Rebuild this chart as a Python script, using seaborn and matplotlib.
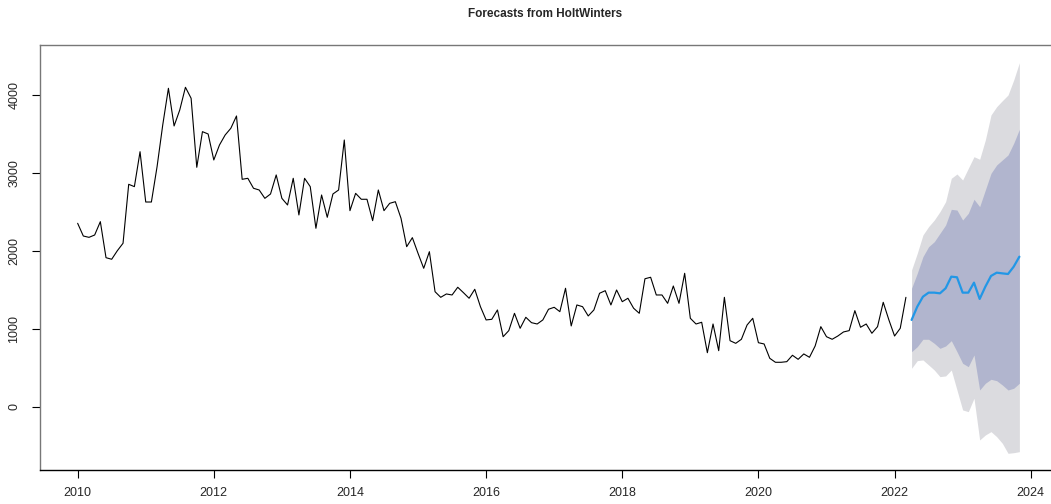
import numpy as np
import pandas as pd
import seaborn as sns
import matplotlib.pyplot as plt

sns.set_style("white")
plt.rcParams['font.family'] = ['Liberation Sans', 'DejaVu Sans']

# monthly series, Jan 2010 .. Mar 2022
observed = [2351, 2188, 2171, 2201, 2372, 1910, 1890, 2000, 2095, 2851, 2821, 3269,
            2624, 2624, 3077, 3612, 4082, 3599, 3804, 4095, 3954, 3069, 3526, 3496,
            3163, 3355, 3483, 3569, 3727, 2915, 2928, 2800, 2778, 2671, 2727, 2971,
            2671, 2586, 2928, 2458, 2928, 2821, 2287, 2714, 2428, 2727, 2778, 3419,
            2513, 2735, 2659, 2659, 2385, 2778, 2513, 2607, 2628, 2415, 2051, 2167,
            1966, 1774, 1987, 1474, 1402, 1445, 1432, 1531, 1462, 1390, 1505, 1282,
            1112, 1120, 1240, 897, 975, 1197, 1005, 1146, 1077, 1060, 1112, 1249,
            1274, 1218, 1518, 1035, 1304, 1282, 1163, 1240, 1454, 1487, 1304, 1496,
            1346, 1390, 1262, 1197, 1640, 1659, 1432, 1432, 1325, 1547, 1325, 1710,
            1133, 1060, 1082, 692, 1060, 718, 1402, 846, 812, 864, 1047, 1133,
            820, 804, 620, 569, 569, 577, 659, 607, 676, 633, 778, 1026,
            897, 864, 906, 958, 975, 1231, 1018, 1060, 941, 1026, 1338, 1112,
            906, 1005, 1402]

# forecast Apr 2022 .. Nov 2023
fc_mean = [1112, 1282, 1410, 1462, 1462, 1453, 1518, 1667, 1659, 1462,
           1462, 1590, 1381, 1538, 1676, 1718, 1709, 1701, 1795, 1923]
lo80 = [705, 769, 864, 864, 812, 748, 778, 846, 705, 556,
        513, 663, 214, 300, 351, 333, 278, 214, 236, 300]
hi80 = [1518, 1710, 1923, 2051, 2115, 2222, 2329, 2530, 2521, 2393,
        2479, 2659, 2564, 2778, 2992, 3099, 3163, 3227, 3377, 3556]
lo95 = [492, 590, 599, 535, 470, 385, 394, 470, 214, -42,
        -64, 108, -427, -363, -320, -385, -470, -598, -590, -577]
hi95 = [1753, 1966, 2201, 2308, 2393, 2500, 2628, 2928, 2983, 2906,
        3056, 3205, 3172, 3419, 3740, 3846, 3923, 3996, 4188, 4410]

hist = pd.DataFrame({'time': 2010 + np.arange(len(observed)) / 12, 'value': observed})
fc = pd.DataFrame({'time': 2010 + (len(observed) + np.arange(len(fc_mean))) / 12,
                   'mean': fc_mean, 'lo80': lo80, 'hi80': hi80, 'lo95': lo95, 'hi95': hi95})

fig = plt.figure(figsize=(10.51, 5.04), dpi=100)
ax = fig.add_axes([40 / 1051, 34 / 504, 1017 / 1051, 425 / 504])

ax.fill_between(fc['time'], fc['lo95'], fc['hi95'], color='#dbdbdf', lw=0)
ax.fill_between(fc['time'], fc['lo80'], fc['hi80'], color='#b1b5ce', lw=0)
sns.lineplot(data=hist, x='time', y='value', color='black', lw=0.8, ax=ax)
sns.lineplot(data=fc, x='time', y='mean', color='#2297e6', lw=1.6, ax=ax)

ax.set_xlim(2009.447, 2024.386)
ax.set_ylim(-812, 4637)
ax.set_xticks(range(2010, 2025, 2))
ax.set_yticks(range(0, 4001, 1000))
ax.set_xlabel('')
ax.set_ylabel('')
ax.tick_params(axis='both', direction='out', length=6, width=0.8, color='black',
               labelsize=9, bottom=True, left=True)
ax.tick_params(axis='x', pad=6)
ax.tick_params(axis='y', pad=8)
for lab in ax.get_yticklabels():
    lab.set_rotation(90)
    lab.set_va('center')
for side in ['top', 'left', 'right']:
    ax.spines[side].set_color('#777777')
    ax.spines[side].set_linewidth(1)
ax.spines['bottom'].set_color('black')
ax.spines['bottom'].set_linewidth(1)

fig.text(545 / 1051, 1 - 14 / 504, 'Forecasts from HoltWinters', ha='center', va='center',
         fontsize=8.5, fontweight='bold')

plt.savefig('out.png', dpi=100)
